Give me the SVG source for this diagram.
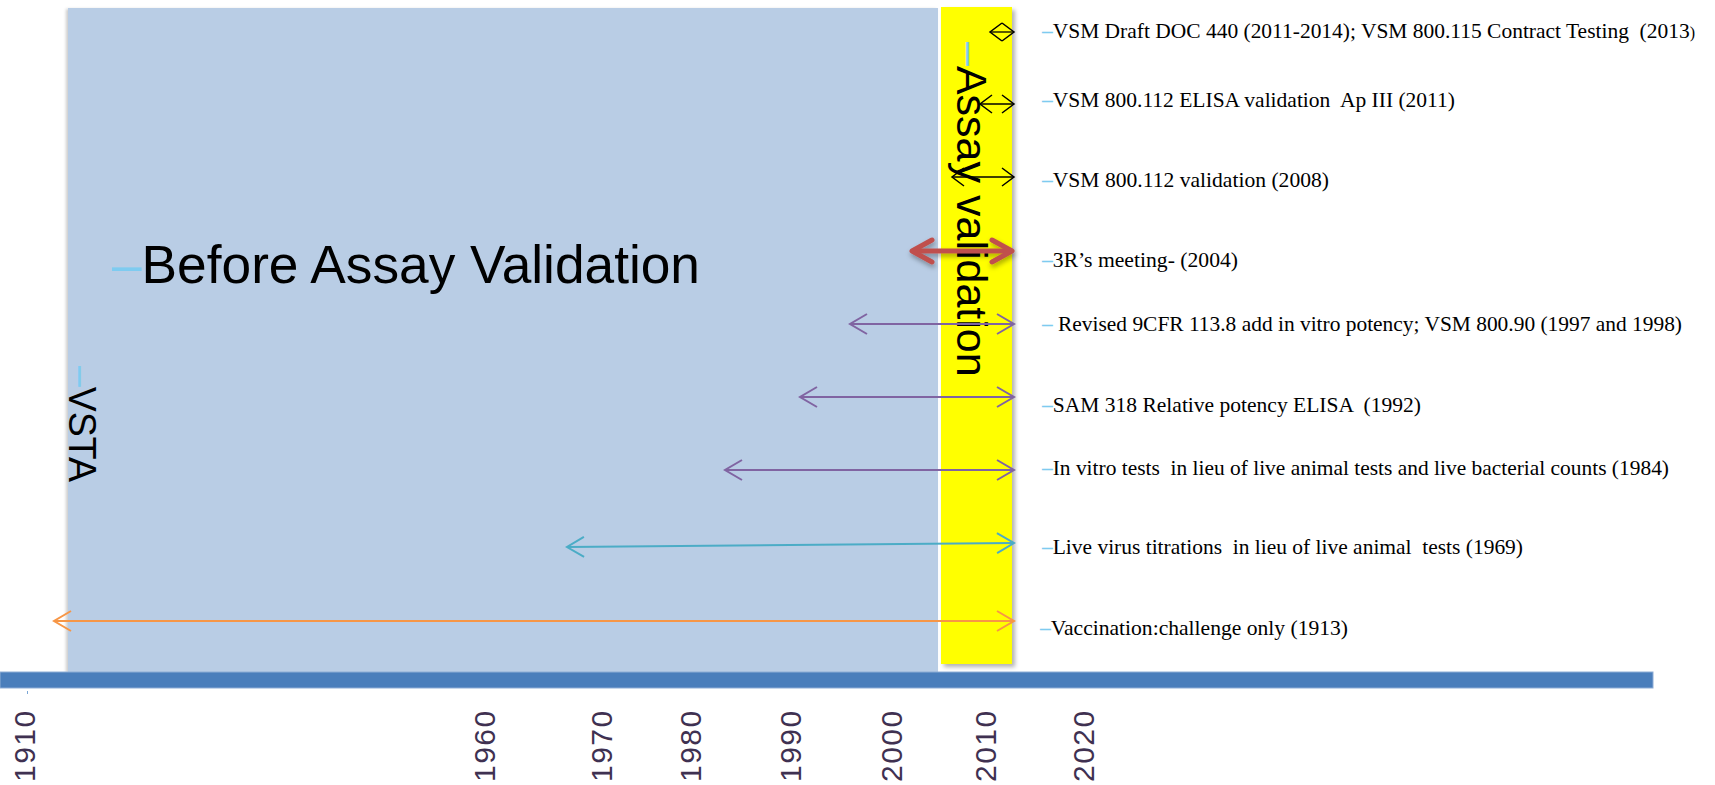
<svg xmlns="http://www.w3.org/2000/svg" width="1715" height="785" viewBox="0 0 1715 785">
  <style>
    .lbl { font-family: "Liberation Serif", "Times New Roman", serif; font-size: 21.5px; fill: #000; white-space: pre; }
    .dash { fill: #7ecbf0; }
    .lbl .dash { font-weight: bold; }
    .year { font-family: "Liberation Sans", Arial, sans-serif; font-size: 30px; fill: #3f3151; letter-spacing: 1.5px; }
    .big { font-family: "Liberation Sans", Arial, sans-serif; fill: #000; white-space: pre; }
  </style>
  <defs>
    <filter id="sh-yellow" x="-20%" y="-5%" width="150%" height="115%">
      <feDropShadow dx="3" dy="3" stdDeviation="2" flood-color="#000" flood-opacity="0.3"/>
    </filter>
    <filter id="sh-blue" x="-5%" y="-5%" width="110%" height="110%">
      <feDropShadow dx="-2" dy="1" stdDeviation="1.5" flood-color="#000" flood-opacity="0.2"/>
    </filter>
    <filter id="sh-red" filterUnits="userSpaceOnUse" x="880" y="220" width="160" height="60">
      <feDropShadow dx="1" dy="3" stdDeviation="2.5" flood-color="#000" flood-opacity="0.35"/>
    </filter>
    <marker id="mk-black" markerUnits="userSpaceOnUse" viewBox="0 0 16 20" markerWidth="16" markerHeight="20" refX="14" refY="10" orient="auto-start-reverse" overflow="visible">
      <path d="M2,1 L14,10 L2,19" fill="none" stroke="#000" stroke-width="1.5"/>
    </marker>
    <marker id="mk-purple" markerUnits="userSpaceOnUse" viewBox="0 0 20 22" markerWidth="20" markerHeight="22" refX="18" refY="11" orient="auto-start-reverse" overflow="visible">
      <path d="M1,1 L18,11 L1,21" fill="none" stroke="#8064a2" stroke-width="2"/>
    </marker>
    <marker id="mk-cyan" markerUnits="userSpaceOnUse" viewBox="0 0 20 22" markerWidth="20" markerHeight="22" refX="18" refY="11" orient="auto-start-reverse" overflow="visible">
      <path d="M1,1 L18,11 L1,21" fill="none" stroke="#4bacc6" stroke-width="2"/>
    </marker>
    <marker id="mk-orange" markerUnits="userSpaceOnUse" viewBox="0 0 20 22" markerWidth="20" markerHeight="22" refX="18" refY="11" orient="auto-start-reverse" overflow="visible">
      <path d="M1,1 L18,11 L1,21" fill="none" stroke="#f79646" stroke-width="2"/>
    </marker>
    <marker id="mk-red" markerUnits="userSpaceOnUse" viewBox="0 0 26 26" markerWidth="26" markerHeight="26" refX="22" refY="13" orient="auto-start-reverse" overflow="visible">
      <path d="M2,2 L22,13 L2,24" fill="none" stroke="#c0504d" stroke-width="5" stroke-linecap="round" stroke-linejoin="round"/>
    </marker>
  </defs>

  <rect x="0" y="0" width="1715" height="785" fill="#ffffff"/>

  <g id="before-assay-validation">
    <rect x="68" y="8" width="870" height="664" fill="#b9cde5" filter="url(#sh-blue)"/>
    <text class="big" x="112" y="283" font-size="53" textLength="588" lengthAdjust="spacingAndGlyphs"><tspan class="dash">–</tspan>Before Assay Validation</text>
  </g>

  <g id="assay-validation">
    <rect x="941" y="7" width="71" height="657" fill="#ffff00" filter="url(#sh-yellow)"/>
    <text class="big" font-size="43" transform="translate(957,42) rotate(90)"><tspan class="dash">–</tspan>Assay validation</text>
  </g>

  <g id="vsta">
    <text class="big" font-size="38" transform="translate(69,366) rotate(90)" textLength="116" lengthAdjust="spacingAndGlyphs"><tspan class="dash">–</tspan>VSTA</text>
  </g>

  <g id="timeline-axis">
    <rect x="0" y="672" width="1653" height="16" fill="#4a7ebb" stroke="#8eadd6" stroke-width="1"/>
    <rect x="27" y="691" width="1" height="3" fill="#7aa6d6"/>
  </g>

  <g id="year-labels">
    <text class="year" transform="translate(35,782) rotate(-90)">1910</text>
    <text class="year" transform="translate(495,782) rotate(-90)">1960</text>
    <text class="year" transform="translate(612,782) rotate(-90)">1970</text>
    <text class="year" transform="translate(701,782) rotate(-90)">1980</text>
    <text class="year" transform="translate(801,782) rotate(-90)">1990</text>
    <text class="year" transform="translate(902,782) rotate(-90)">2000</text>
    <text class="year" transform="translate(996,782) rotate(-90)">2010</text>
    <text class="year" transform="translate(1094,782) rotate(-90)">2020</text>
  </g>

  <g id="connectors">
    <line x1="990" y1="32" x2="1014" y2="32" stroke="#000" stroke-width="1.3" marker-start="url(#mk-black)" marker-end="url(#mk-black)"/>
    <line x1="980" y1="104" x2="1014" y2="104" stroke="#000" stroke-width="1.3" marker-start="url(#mk-black)" marker-end="url(#mk-black)"/>
    <line x1="952" y1="177" x2="1014" y2="177" stroke="#000" stroke-width="1.3" marker-start="url(#mk-black)" marker-end="url(#mk-black)"/>
    <g filter="url(#sh-red)">
      <line x1="912" y1="251" x2="1012" y2="251" stroke="#c0504d" stroke-width="5" marker-start="url(#mk-red)" marker-end="url(#mk-red)"/>
    </g>
    <line x1="850" y1="324" x2="1014" y2="324" stroke="#8064a2" stroke-width="2" marker-start="url(#mk-purple)" marker-end="url(#mk-purple)"/>
    <line x1="800" y1="397" x2="1014" y2="397" stroke="#8064a2" stroke-width="2" marker-start="url(#mk-purple)" marker-end="url(#mk-purple)"/>
    <line x1="725" y1="470" x2="1014" y2="470" stroke="#8064a2" stroke-width="2" marker-start="url(#mk-purple)" marker-end="url(#mk-purple)"/>
    <line x1="567" y1="547" x2="1014" y2="543" stroke="#4bacc6" stroke-width="2" marker-start="url(#mk-cyan)" marker-end="url(#mk-cyan)"/>
    <line x1="54" y1="621" x2="1014" y2="621" stroke="#f79646" stroke-width="2" marker-start="url(#mk-orange)" marker-end="url(#mk-orange)"/>
  </g>

  <g id="event-labels">
    <text id="ev-2013" class="lbl" x="1042" y="38" textLength="653" lengthAdjust="spacingAndGlyphs"><tspan class="dash">–</tspan>VSM Draft DOC 440 (2011-2014); VSM 800.115 Contract Testing  (2013<tspan font-size="16">)</tspan></text>
    <text id="ev-2011" class="lbl" x="1042" y="107" textLength="413" lengthAdjust="spacingAndGlyphs"><tspan class="dash">–</tspan>VSM 800.112 ELISA validation  Ap III (2011)</text>
    <text id="ev-2008" class="lbl" x="1042" y="187" textLength="287" lengthAdjust="spacingAndGlyphs"><tspan class="dash">–</tspan>VSM 800.112 validation (2008)</text>
    <text id="ev-2004" class="lbl" x="1042" y="267" textLength="196" lengthAdjust="spacingAndGlyphs"><tspan class="dash">–</tspan>3R’s meeting- (2004)</text>
    <text id="ev-1997" class="lbl" x="1042" y="331" textLength="640" lengthAdjust="spacingAndGlyphs"><tspan class="dash">–</tspan> Revised 9CFR 113.8 add in vitro potency; VSM 800.90 (1997 and 1998)</text>
    <text id="ev-1992" class="lbl" x="1042" y="412" textLength="379" lengthAdjust="spacingAndGlyphs"><tspan class="dash">–</tspan>SAM 318 Relative potency ELISA  (1992)</text>
    <text id="ev-1984" class="lbl" x="1042" y="475" textLength="627" lengthAdjust="spacingAndGlyphs"><tspan class="dash">–</tspan>In vitro tests  in lieu of live animal tests and live bacterial counts (1984)</text>
    <text id="ev-1969" class="lbl" x="1042" y="554" textLength="481" lengthAdjust="spacingAndGlyphs"><tspan class="dash">–</tspan>Live virus titrations  in lieu of live animal  tests (1969)</text>
    <text id="ev-1913" class="lbl" x="1040" y="635" textLength="308" lengthAdjust="spacingAndGlyphs"><tspan class="dash">–</tspan>Vaccination:challenge only (1913)</text>
  </g>
</svg>
